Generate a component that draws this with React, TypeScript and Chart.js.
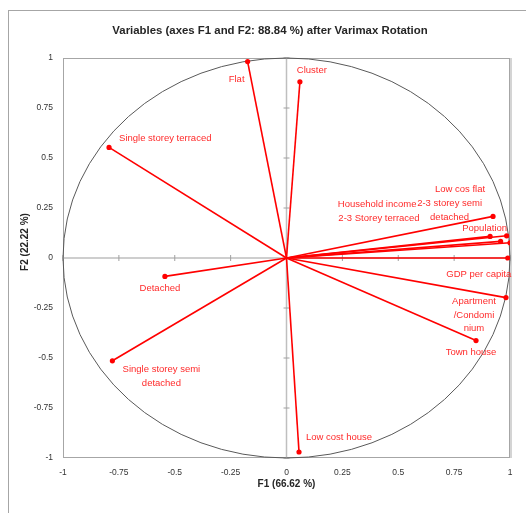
import { useEffect, useRef } from "react";
import { Chart, registerables } from "chart.js";

Chart.register(...registerables);

const chartTitle = "Variables (axes F1 and F2: 88.84 %) after Varimax Rotation";
const xAxisTitle = "F1 (66.62 %)";
const yAxisTitle = "F2 (22.22 %)";

const variableNames = [
  "Flat",
  "Cluster",
  "Single storey terraced",
  "Detached",
  "Single storey semi\ndetached",
  "Low cost house",
  "Town house",
  "Apartment\n/Condomi\nnium",
  "GDP per capita",
  "Low cos flat",
  "Household income",
  "2-3 storey semi\ndetached",
  "Population",
  "2-3 Storey terraced",
];

const f1Values = [-0.174, 0.06, -0.794, -0.544, -0.779, 0.056, 0.848, 0.982, 0.99, 0.924, 0.911, 0.958, 0.985, 1.0];
const f2Values = [0.982, 0.881, 0.553, -0.092, -0.514, -0.97, -0.413, -0.198, 0.0, 0.208, 0.108, 0.083, 0.111, 0.076];

const axisTicks = [-1, -0.75, -0.5, -0.25, 0, 0.25, 0.5, 0.75, 1];
const axisTickLabels = ["-1", "-0.75", "-0.5", "-0.25", "0", "0.25", "0.5", "0.75", "1"];

// label placement relative to the marker (pixels) — style only
const labelPlacement: { dx: number; dy: number; align: CanvasTextAlign }[] = [
  { dx: -11, dy: 18, align: "center" },
  { dx: 12, dy: -11, align: "center" },
  { dx: 10, dy: -9, align: "left" },
  { dx: -5, dy: 12, align: "center" },
  { dx: 49, dy: 9, align: "center" },
  { dx: 7, dy: -15, align: "left" },
  { dx: -5, dy: 12, align: "center" },
  { dx: -32, dy: 4, align: "center" },
  { dx: -29, dy: 16, align: "center" },
  { dx: -33, dy: -27, align: "center" },
  { dx: -113, dy: -32, align: "center" },
  { dx: -51, dy: -38, align: "center" },
  { dx: -22, dy: -7, align: "center" },
  { dx: -131, dy: -24, align: "center" },
];

const FONT = "'Liberation Sans', Arial, sans-serif";

function tickLabel(v: number) {
  const i = axisTicks.findIndex((t) => Math.abs(t - v) < 1e-9);
  return i >= 0 ? axisTickLabels[i] : "";
}

export default function App() {
  const ref = useRef<HTMLCanvasElement>(null);

  useEffect(() => {
    const canvas = ref.current;
    if (!canvas) return;

    const datasets = variableNames.map((name, i) => ({
      label: name,
      data: [
        { x: 0, y: 0 },
        { x: f1Values[i], y: f2Values[i] },
      ],
      showLine: true,
      borderColor: "#ff0000",
      backgroundColor: "#ff0000",
      borderWidth: 1.6,
      pointRadius: [0, 2.6],
      pointHoverRadius: 0,
      pointBorderWidth: 0,
    }));

    const overlay = {
      id: "overlay",
      beforeDatasetsDraw(chart: any) {
        const { ctx, chartArea: a, scales } = chart;
        const xs = scales.x;
        const ys = scales.y;
        const cx = xs.getPixelForValue(0);
        const cy = ys.getPixelForValue(0);
        ctx.save();
        // plot border
        ctx.strokeStyle = "#a6a6a6";
        ctx.lineWidth = 1;
        ctx.strokeRect(a.left + 0.5, a.top + 0.5, a.width - 1, a.height - 1);
        ctx.strokeStyle = "#d4d4d4";
        ctx.lineWidth = 2;
        ctx.beginPath();
        ctx.moveTo(a.right + 1, a.top);
        ctx.lineTo(a.right + 1, a.bottom);
        ctx.stroke();
        // zero axes
        ctx.strokeStyle = "#bfbfbf";
        ctx.lineWidth = 1.5;
        ctx.beginPath();
        ctx.moveTo(a.left, cy);
        ctx.lineTo(a.right, cy);
        ctx.moveTo(cx, a.top);
        ctx.lineTo(cx, a.bottom);
        ctx.stroke();
        ctx.strokeStyle = "#a0a0a0";
        ctx.lineWidth = 1;
        ctx.beginPath();
        for (const t of axisTicks) {
          const px = xs.getPixelForValue(t);
          const py = ys.getPixelForValue(t);
          ctx.moveTo(px, cy - 3);
          ctx.lineTo(px, cy + 3);
          ctx.moveTo(cx - 3, py);
          ctx.lineTo(cx + 3, py);
        }
        ctx.stroke();
        // correlation circle
        const rx = xs.getPixelForValue(1) - cx;
        const ry = cy - ys.getPixelForValue(1);
        ctx.strokeStyle = "#595959";
        ctx.lineWidth = 1;
        ctx.beginPath();
        ctx.ellipse(cx, cy, rx, ry, 0, 0, Math.PI * 2);
        ctx.stroke();
        ctx.restore();
      },
      afterDatasetsDraw(chart: any) {
        const { ctx, chartArea: a, scales } = chart;
        const xs = scales.x;
        const ys = scales.y;
        ctx.save();
        // point labels
        ctx.fillStyle = "#ff2a2a";
        ctx.font = `9.5px ${FONT}`;
        ctx.textBaseline = "middle";
        variableNames.forEach((name, i) => {
          const px = xs.getPixelForValue(f1Values[i]);
          const py = ys.getPixelForValue(f2Values[i]);
          const p = labelPlacement[i];
          ctx.textAlign = p.align;
          name.split("\n").forEach((line, k) => {
            ctx.fillText(line, px + p.dx, py + p.dy + k * 13.5);
          });
        });
        // titles
        ctx.fillStyle = "#262626";
        ctx.textAlign = "center";
        ctx.font = `bold 11.4px ${FONT}`;
        ctx.fillText(chartTitle, 270, 31);
        ctx.font = `bold 10px ${FONT}`;
        ctx.fillText(xAxisTitle, (a.left + a.right) / 2, 484);
        ctx.translate(25, 242);
        ctx.rotate(-Math.PI / 2);
        ctx.fillText(yAxisTitle, 0, 0);
        ctx.restore();
      },
    };

    const tickFont = { family: FONT, size: 8.5 };
    const setTicks = (s: any) => {
      s.ticks = axisTicks.map((v) => ({ value: v }));
    };

    const chart = new Chart(canvas, {
      type: "scatter",
      data: { datasets },
      options: {
        animation: false,
        responsive: false,
        events: [],
        layout: { padding: { top: 58, right: 16, left: 0, bottom: 0 } },
        plugins: {
          legend: { display: false },
          tooltip: { enabled: false },
          title: { display: false },
        },
        scales: {
          x: {
            type: "linear",
            min: -1,
            max: 1,
            afterBuildTicks: setTicks,
            grid: { display: false, drawTicks: false },
            border: { display: false },
            ticks: { autoSkip: false, padding: 10, color: "#333333", font: tickFont, callback: (v: any) => tickLabel(Number(v)) },
            afterFit: (s: any) => {
              s.height = 55;
            },
          },
          y: {
            type: "linear",
            min: -1,
            max: 1,
            afterBuildTicks: setTicks,
            grid: { display: false, drawTicks: false },
            border: { display: false },
            ticks: { autoSkip: false, padding: 10, color: "#333333", font: tickFont, callback: (v: any) => tickLabel(Number(v)) },
            afterFit: (s: any) => {
              s.width = 63;
            },
          },
        },
      },
      plugins: [overlay],
    } as any);

    return () => chart.destroy();
  }, []);

  return (
    <div style={{ position: "fixed", left: 0, top: 0, width: 526, height: 513, background: "#fff", overflow: "hidden" }}>
      <div
        style={{
          position: "absolute",
          left: 8,
          top: 10,
          right: 0,
          bottom: 0,
          borderLeft: "1px solid #a6a6a6",
          borderTop: "1px solid #a6a6a6",
        }}
      />
      <canvas ref={ref} width={526} height={513} style={{ position: "absolute", left: 0, top: 0, width: 526, height: 513 }} />
    </div>
  );
}
